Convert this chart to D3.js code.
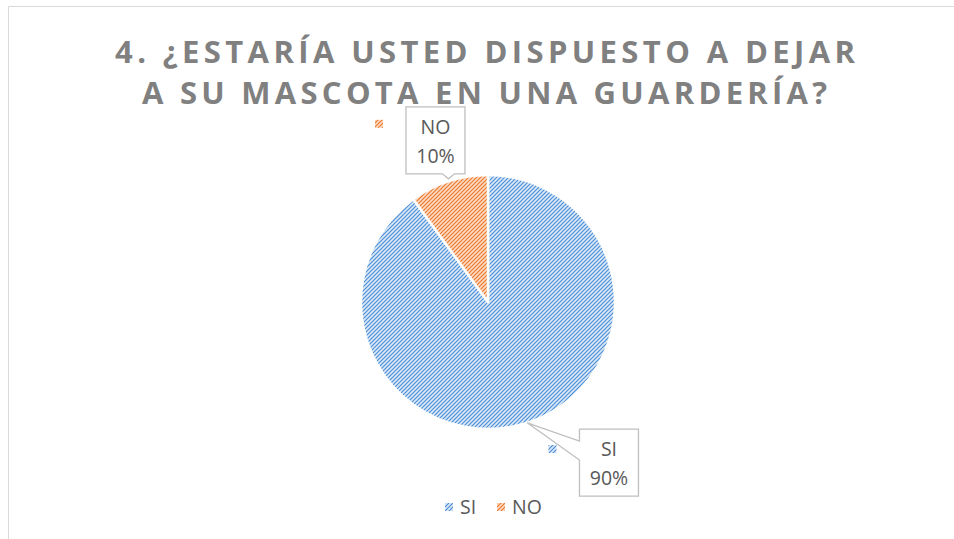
<!DOCTYPE html>
<meta charset="utf-8">
<style>
body { margin: 0; background: #fff; }
.title { font-family: "Open Sans", sans-serif; font-weight: bold; fill: #808080; font-size: 31px; }
.lbl { font-family: "Open Sans", sans-serif; font-size: 19.5px; fill: #595959; }
.box { fill: #fff; stroke: #bfbfbf; stroke-width: 1.3px; }
</style>
<div id="chart"></div>
<script src="https://cdn.jsdelivr.net/npm/d3@7"></script>
<script>
var categories = ["SI", "NO"];
var values = [90, 10];
var titleLines = ["4. ¿ESTARÍA USTED DISPUESTO A DEJAR", "A SU MASCOTA EN UNA GUARDERÍA?"];

var width = 954, height = 539;
var cx = 488, cy = 302, r = 127;

var colors = {SI: {line: "#4a8fd8", bg: "#dde9f7"}, NO: {line: "#ec782b", bg: "#fcdcc6"}};

var svg = d3.select("#chart").append("svg")
    .attr("width", width)
    .attr("height", height);

// patterned fills
var defs = svg.append("defs");
categories.forEach(function(c) {
  var p = defs.append("pattern")
      .attr("id", "pat-" + c)
      .attr("patternUnits", "userSpaceOnUse")
      .attr("width", 4).attr("height", 4);
  p.append("rect").attr("width", 4).attr("height", 4).attr("fill", colors[c].bg);
  p.append("path")
      .attr("d", "M-1,1 L1,-1 M0,4 L4,0 M3,5 L5,3")
      .attr("stroke", colors[c].line)
      .attr("stroke-width", 1.2);
});

// frame
svg.append("path")
    .attr("d", "M8.5," + height + " V6.5 H" + width)
    .attr("fill", "none")
    .attr("stroke", "#d9d9d9")
    .attr("stroke-width", 1);

// title
var titleBox = [[115, 855, 63], [142, 827, 104]];
svg.selectAll(".title").data(titleLines).enter().append("text")
    .attr("class", "title")
    .attr("x", function(d, i) { return titleBox[i][0]; })
    .attr("y", function(d, i) { return titleBox[i][2]; })
    .attr("textLength", function(d, i) { return titleBox[i][1] - titleBox[i][0]; })
    .attr("lengthAdjust", "spacing")
    .text(function(d) { return d; });

var data = categories.map(function(c, i) { return {key: c, value: values[i]}; });
var pie = d3.pie().sort(null).value(function(d) { return d.value; });
var arcs = pie(data);
var arc = d3.arc().innerRadius(0).outerRadius(r);

var g = svg.append("g").attr("transform", "translate(" + cx + "," + cy + ")");
g.selectAll("path.slice").data(arcs).enter().append("path")
    .attr("class", "slice")
    .attr("d", arc)
    .attr("fill", function(d) { return "url(#pat-" + d.data.key + ")"; })
    .attr("stroke", "#fff")
    .attr("stroke-width", 2.5)
    .attr("stroke-linejoin", "round");

// data labels (callouts)
function polar(a, rad) { return [rad * Math.sin(a), -rad * Math.cos(a)]; }
var boxW = 59, boxH = 67;
var labelPlace = {
  NO: {ang: null, rad: 170, pointer: "bottom"},
  SI: {ang: 143 * Math.PI / 180, rad: 201, pointer: "left"}
};

arcs.forEach(function(d) {
  var k = d.data.key, pl = labelPlace[k];
  var mid = (d.startAngle + d.endAngle) / 2;
  var c = polar(pl.ang == null ? mid : pl.ang, pl.rad);
  var tip = polar(mid, r);
  var x0 = c[0] - boxW / 2, y0 = c[1] - boxH / 2, x1 = x0 + boxW, y1 = y0 + boxH;
  var pts;
  if (pl.pointer === "bottom") {
    var px = c[0] + 13;
    tip = [px, y1 + 5];
    pts = [[x0, y0], [x1, y0], [x1, y1], [px + 6, y1], tip, [px - 6, y1], [x0, y1]];
  } else {
    pts = [[x0, y0], [x1, y0], [x1, y1], [x0, y1], [x0, y0 + 31], tip, [x0, y0 + 12]];
  }
  g.append("path")
      .attr("class", "box")
      .attr("d", "M" + pts.map(function(p) { return p.join(","); }).join("L") + "Z");
  g.append("text").attr("class", "lbl")
      .attr("x", c[0]).attr("y", y0 + 27)
      .attr("text-anchor", "middle")
      .text(k);
  g.append("text").attr("class", "lbl")
      .attr("x", c[0]).attr("y", y0 + 56)
      .attr("text-anchor", "middle")
      .text(d.data.value + "%");
  // legend key shown beside label
  var kx = x0 - 31, ky = k === "NO" ? y0 + 13 : y0 + 16;
  g.append("rect")
      .attr("x", kx).attr("y", ky).attr("width", 8).attr("height", 8)
      .attr("fill", "url(#pat-" + k + ")");
});

// legend
var legend = svg.append("g").attr("transform", "translate(445,507)");
var legX = d3.scalePoint().domain(categories).range([0, 52]);
var items = legend.selectAll("g").data(categories).enter().append("g")
    .attr("transform", function(d) { return "translate(" + legX(d) + ",0)"; });
items.append("rect")
    .attr("x", 0).attr("y", -4).attr("width", 8).attr("height", 8)
    .attr("fill", function(d) { return "url(#pat-" + d + ")"; });
items.append("text").attr("class", "lbl")
    .attr("x", 15).attr("y", 7)
    .text(function(d) { return d; });
</script>
